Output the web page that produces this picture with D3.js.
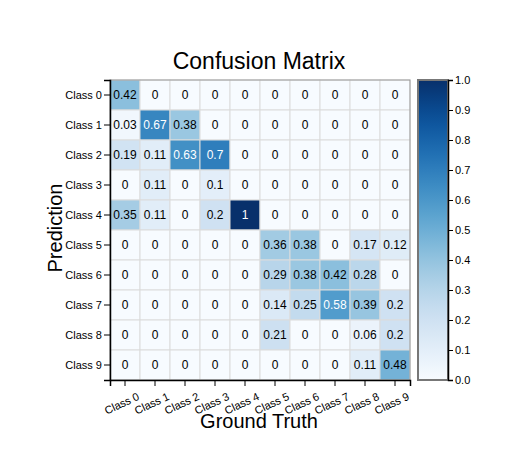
<!DOCTYPE html>
<html><head><meta charset="utf-8">
<script src="https://cdn.jsdelivr.net/npm/d3@7"></script>
<style>body{margin:0;background:#fff}svg{font-family:"Liberation Sans",Arial,sans-serif}</style>
</head><body><svg id="c" width="510" height="460"></svg>
<script>
const classes = ["Class 0","Class 1","Class 2","Class 3","Class 4","Class 5","Class 6","Class 7","Class 8","Class 9"];
// rows = prediction, columns = ground truth
const row0 = [0.42,0,0,0,0,0,0,0,0,0];
const row1 = [0.03,0.67,0.38,0,0,0,0,0,0,0];
const row2 = [0.19,0.11,0.63,0.7,0,0,0,0,0,0];
const row3 = [0,0.11,0,0.1,0,0,0,0,0,0];
const row4 = [0.35,0.11,0,0.2,1,0,0,0,0,0];
const row5 = [0,0,0,0,0,0.36,0.38,0,0.17,0.12];
const row6 = [0,0,0,0,0,0.29,0.38,0.42,0.28,0];
const row7 = [0,0,0,0,0,0.14,0.25,0.58,0.39,0.2];
const row8 = [0,0,0,0,0,0.21,0,0,0.06,0.2];
const row9 = [0,0,0,0,0,0,0,0,0.11,0.48];
const matrix = [row0,row1,row2,row3,row4,row5,row6,row7,row8,row9];
const colorTicks = [0,0.1,0.2,0.3,0.4,0.5,0.6,0.7,0.8,0.9,1.0];

const svg = d3.select("#c");
const L=110, T=80, W=300, H=300;
const x = d3.scaleBand().domain(classes).range([L,L+W]);
const y = d3.scaleBand().domain(classes).range([T,T+H]);
const color = d3.scaleSequential(d3.interpolateBlues).domain([0,1]);

const cells=[];
matrix.forEach((r,i)=>r.forEach((v,j)=>cells.push({row:classes[i],col:classes[j],v})));
const g=svg.append("g");
g.selectAll("rect").data(cells).enter().append("rect")
 .attr("x",d=>x(d.col)).attr("y",d=>y(d.row))
 .attr("width",x.bandwidth()).attr("height",y.bandwidth())
 .attr("fill",d=>color(d.v)).attr("stroke","#dcdcdc").attr("stroke-width",1);
g.selectAll("text").data(cells).enter().append("text")
 .attr("x",d=>x(d.col)+x.bandwidth()/2).attr("y",d=>y(d.row)+y.bandwidth()/2)
 .attr("dy","0.36em").attr("text-anchor","middle").attr("font-size",12)
 .attr("fill",d=>d.v>0.5?"#fff":"#000").text(d=>d.v);

// frame
svg.append("rect").attr("x",L).attr("y",T).attr("width",W).attr("height",H)
 .attr("fill","none").attr("stroke","#999").attr("stroke-width",1);

const yAxis=svg.append("g").attr("transform",`translate(${L},0)`).call(d3.axisLeft(y).tickSize(6).tickPadding(2));
yAxis.selectAll("text").attr("font-size",11).attr("fill","#000").attr("font-family","Liberation Sans, Arial, sans-serif");
yAxis.select(".domain").attr("stroke","#000").attr("stroke-width",1.5);

const xAxis=svg.append("g").attr("transform",`translate(0,${T+H})`).call(d3.axisBottom(x).tickSize(6));
xAxis.selectAll("text").attr("font-size",11).attr("fill","#000").attr("font-family","Liberation Sans, Arial, sans-serif")
 .attr("text-anchor","end").attr("transform","translate(8,4) rotate(-25)").attr("dy","0.71em");
xAxis.select(".domain").attr("stroke","#000").attr("stroke-width",1.5);

// colorbar
const cbX=418, cbW=30;
const cy=d3.scaleLinear().domain([0,1]).range([T+H,T]);
const defs=svg.append("defs");
const grad=defs.append("linearGradient").attr("id","gr").attr("x1",0).attr("y1",1).attr("x2",0).attr("y2",0);
d3.range(0,1.0001,0.05).forEach(t=>grad.append("stop").attr("offset",t).attr("stop-color",color(t)));
svg.append("rect").attr("x",cbX).attr("y",T).attr("width",cbW).attr("height",H)
 .attr("fill","url(#gr)").attr("stroke","#777").attr("stroke-width",2);
const cAxis=svg.append("g").attr("transform",`translate(${cbX+cbW},0)`)
 .call(d3.axisRight(cy).tickValues(colorTicks).tickFormat(d3.format(".1f")).tickSize(5).tickPadding(2));
cAxis.selectAll("text").attr("font-size",11).attr("fill","#000").attr("font-family","Liberation Sans, Arial, sans-serif");
cAxis.select(".domain").attr("stroke","#000").attr("stroke-width",1.5);

svg.append("text").attr("x",259).attr("y",69).attr("text-anchor","middle").attr("font-size",23).text("Confusion Matrix");
svg.append("text").attr("x",259).attr("y",428).attr("text-anchor","middle").attr("font-size",20).text("Ground Truth");
svg.append("text").attr("transform","translate(62,228) rotate(-90)").attr("text-anchor","middle").attr("font-size",20).text("Prediction");
</script></body></html>
